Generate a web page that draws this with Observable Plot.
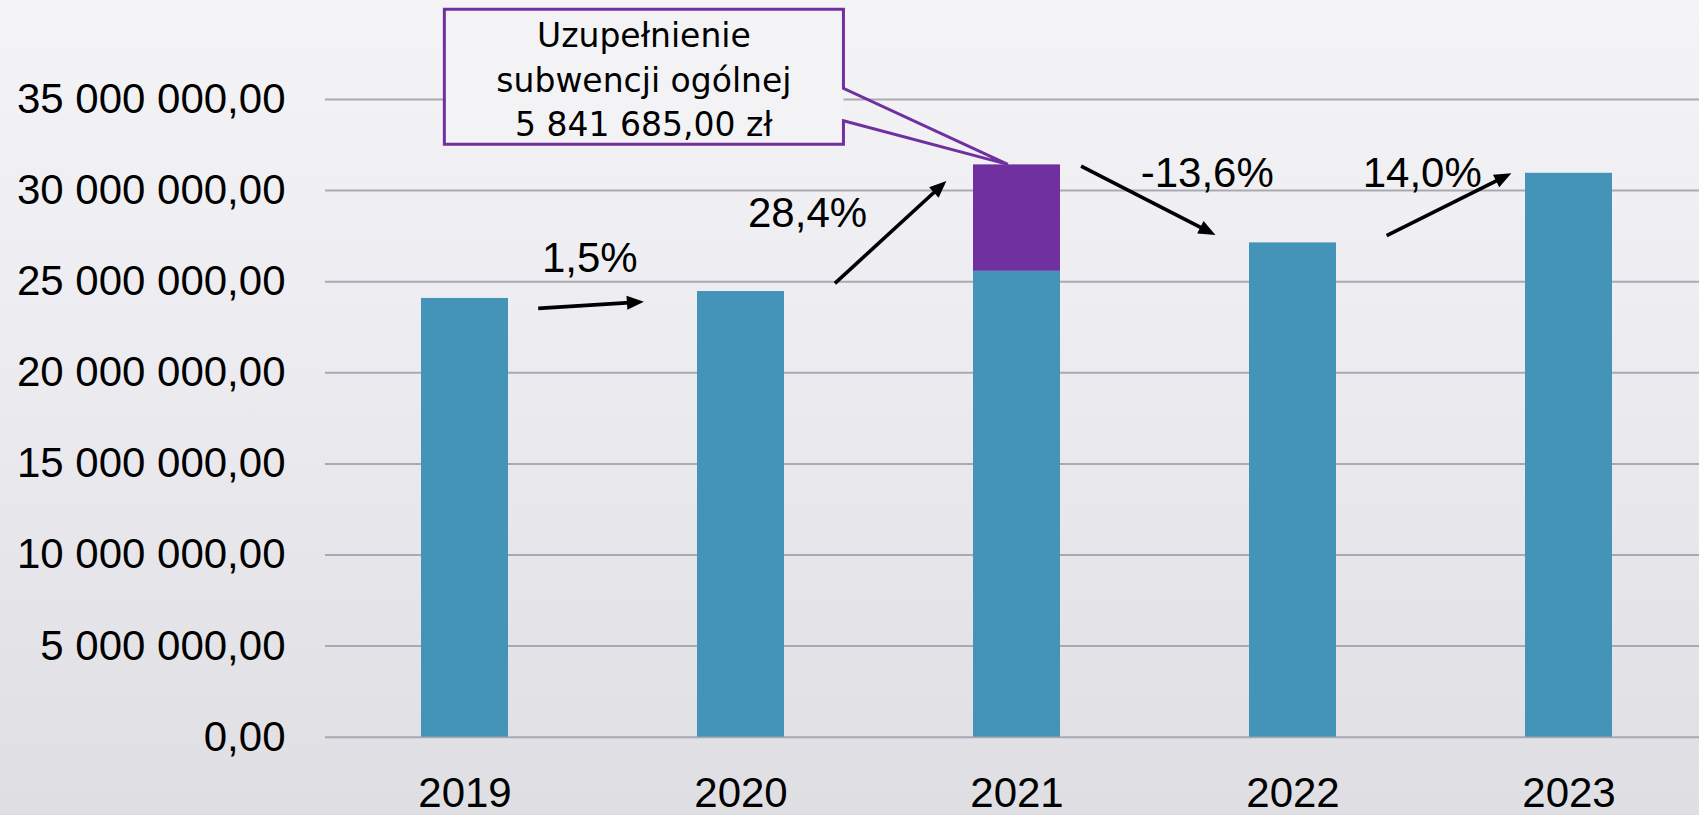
<!DOCTYPE html>
<html>
<head>
<meta charset="utf-8">
<script src="https://cdn.jsdelivr.net/npm/d3@7"></script>
<script src="https://cdn.jsdelivr.net/npm/@observablehq/plot@0.6"></script>
<style>
  html, body { margin: 0; padding: 0; overflow: hidden; }
  body {
    width: 1699px; height: 815px;
    background: linear-gradient(180deg, #f4f4f7 0%, #ececf0 45%, #dedee3 100%);
  }
  #chart svg { display: block; max-width: none; }
</style>
</head>
<body>
<div id="chart"></div>
<script>
// ---- data ----
const years = ["2019", "2020", "2021", "2022", "2023"];
const baseValues = [24080000, 24460000, 25570000, 27130000, 30950000];
const supplementValues = [0, 0, 5841685, 0, 0];
const changeLabels = ["1,5%", "28,4%", "-13,6%", "14,0%"];
const yTicks = [0, 5000000, 10000000, 15000000, 20000000, 25000000, 30000000, 35000000];
const calloutLines = ["Uzupełnienie", "subwencji ogólnej", "5 841 685,00 zł"];
const calloutYear = "2021";

// ---- annotation layout (data space: fraction of a step from a year centre, money units) ----
const arrowLayout = [
  {from: 0, t0: 0.267, v0: 23.51e6, t1: 0.650, v1: 23.87e6, tl: 0.454, vl: 25.52e6},
  {from: 1, t0: 0.342, v0: 24.88e6, t1: 0.746, v1: 30.50e6, tl: 0.243, vl: 27.99e6},
  {from: 2, t0: 0.234, v0: 31.32e6, t1: 0.721, v1: 27.54e6, tl: 0.691, vl: 30.19e6},
  {from: 3, t0: 0.341, v0: 27.50e6, t1: 0.793, v1: 30.92e6, tl: 0.470, vl: 30.19e6}
];
const calloutLayout = {
  anchor: 0, tLeft: -0.073, tRight: 1.373,
  vTop: 39.92e6, vBottom: 32.51e6, vWedgeTop: 35.59e6, vWedgeBottom: 33.81e6,
  lineBaselines: [37.87e6, 35.40e6, 32.97e6]
};

const rows = [];
years.forEach((yr, i) => {
  rows.push({year: yr, kind: "base", value: baseValues[i]});
  rows.push({year: yr, kind: "supplement", value: supplementValues[i]});
});

const pl = d3.formatLocale({decimal: ",", thousands: "\u00a0", grouping: [3], currency: ["", ""]});
const fmt = pl.format(",.2f");

const COLORS = {base: "#4394B8", supplement: "#7030A0"};

function annotations(index, scales) {
  const x = scales.x, y = scales.y;
  const bw = x.bandwidth();
  const cx = (yr) => x(yr) + bw / 2;
  const step = cx(years[1]) - cx(years[0]);
  const px = (i, t) => cx(years[i]) + t * step;
  const g = d3.create("svg:g");

  // arrows
  arrowLayout.forEach((a, k) => {
    const x0 = px(a.from, a.t0), y0 = y(a.v0);
    const x1 = px(a.from, a.t1), y1 = y(a.v1);
    const dx = x1 - x0, dy = y1 - y0, len = Math.hypot(dx, dy);
    const ux = dx / len, uy = dy / len;
    const L = 17, W = 14;
    const bx = x1 - ux * L, by = y1 - uy * L;
    g.append("line")
      .attr("x1", x0).attr("y1", y0)
      .attr("x2", x1 - ux * (L - 3)).attr("y2", y1 - uy * (L - 3))
      .attr("stroke", "#000").attr("stroke-width", 3.6);
    g.append("polygon")
      .attr("points", [
        [x1, y1],
        [bx - uy * W / 2, by + ux * W / 2],
        [bx + uy * W / 2, by - ux * W / 2]
      ].map(p => p.join(",")).join(" "))
      .attr("fill", "#000");
    g.append("text")
      .attr("x", px(a.from, a.tl)).attr("y", y(a.vl))
      .attr("text-anchor", "middle")
      .attr("font-family", "'Liberation Sans', Arial, sans-serif")
      .attr("font-size", 42)
      .attr("fill", "#000")
      .text(changeLabels[k]);
  });

  // callout
  const c = calloutLayout;
  const L = px(c.anchor, c.tLeft), R = px(c.anchor, c.tRight);
  const T = y(c.vTop), B = y(c.vBottom);
  const ci = years.indexOf(calloutYear);
  const tipX = x(calloutYear) + bw * 0.4;
  const tipY = y(baseValues[ci] + supplementValues[ci]);
  g.append("rect")
    .attr("x", L).attr("y", T).attr("width", R - L).attr("height", B - T)
    .attr("fill", "#f3f3f6");
  g.append("path")
    .attr("d", `M${L},${T}H${R}V${y(c.vWedgeTop)}L${tipX},${tipY}L${R},${y(c.vWedgeBottom)}V${B}H${L}Z`)
    .attr("fill", "none").attr("stroke", "#7030A0").attr("stroke-width", 3)
    .attr("stroke-linejoin", "miter");
  calloutLines.forEach((line, i) => {
    g.append("text")
      .attr("x", (L + R) / 2).attr("y", y(c.lineBaselines[i]))
      .attr("text-anchor", "middle")
      .attr("font-family", "'DejaVu Sans', Verdana, sans-serif")
      .attr("font-size", 33)
      .attr("fill", "#000")
      .text(line);
  });
  return g.node();
}

const chart = Plot.plot({
  width: 1699,
  height: 815,
  marginLeft: 325,
  marginRight: -10,
  marginTop: 99,
  marginBottom: 78.3,
  style: {
    background: "transparent",
    fontFamily: "'Liberation Sans', Arial, sans-serif",
    fontSize: "42px",
    color: "#000",
    maxWidth: "none"
  },
  x: {domain: years, paddingInner: 0.683, paddingOuter: 0.3415, align: 0.5, axis: null, label: null},
  y: {domain: [0, 35000000], axis: null, label: null},
  color: {domain: ["base", "supplement"], range: [COLORS.base, COLORS.supplement]},
  marks: [
    Plot.ruleY(yTicks, {stroke: "#a9a9b2", strokeWidth: 2}),
    Plot.barY(rows, {x: "year", y: "value", fill: "kind"}),
    Plot.axisY(yTicks, {tickSize: 0, tickPadding: 40, tickFormat: fmt, fontSize: 42, fill: "#000", label: null}),
    Plot.axisX({tickSize: 0, tickPadding: 40, fontSize: 42, fill: "#000", label: null}),
    annotations
  ]
});
document.getElementById("chart").appendChild(chart);
</script>
</body>
</html>
